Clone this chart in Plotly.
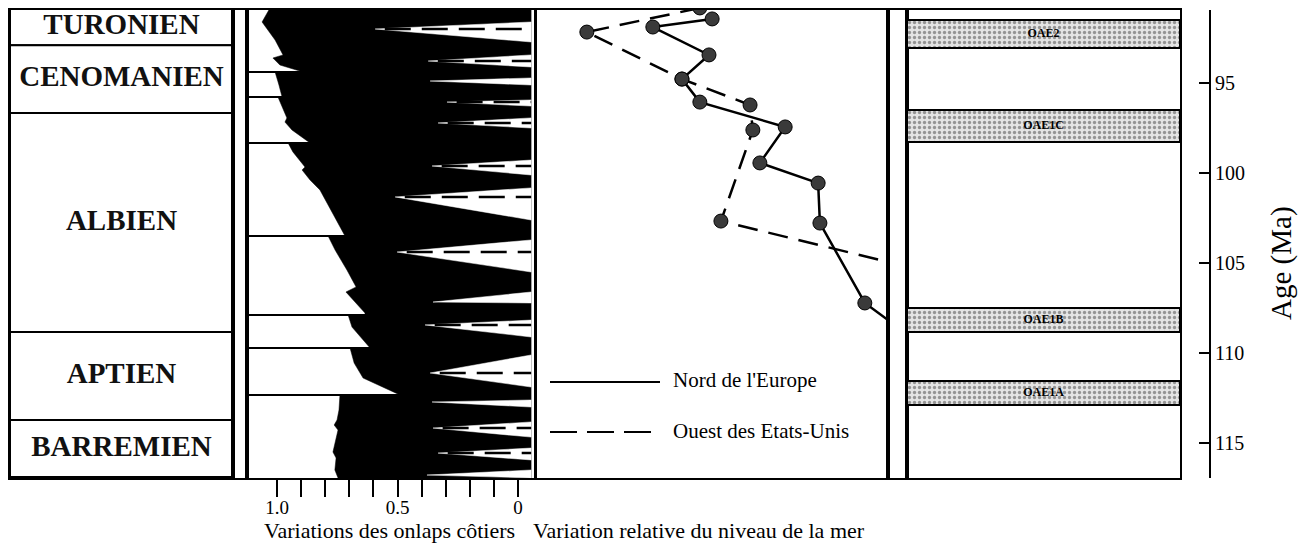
import plotly.graph_objects as go

# ---- data (ages in Ma) ----
stage_names = ['TURONIEN', 'CENOMANIEN', 'ALBIEN', 'APTIEN', 'BARREMIEN']
stage_top = [90.83, 92.9, 96.67, 108.83, 113.72]
stage_base = [92.9, 96.67, 108.83, 113.72, 116.89]

# coastal onlap curve (white/black limit), jumps at sequence boundaries
onlap_age = [90.83, 91.61, 92.61, 93.17, 93.44, 93.61, 94.0, 94.39,
             94.39, 95.11, 95.78,
             95.78, 96.5, 96.94, 97.17, 97.61, 98.33,
             98.33, 98.83, 99.44, 99.67, 99.83, 100.39, 100.94, 103.5,
             103.5, 104.28, 105.39, 106.33, 106.61, 107.78, 107.89,
             107.89, 108.56, 109.72,
             109.72, 110.56, 111.39, 111.89, 112.33,
             112.33, 113.17, 113.72, 114.0, 114.28, 115.5, 115.83, 116.5, 116.94]
onlap_val = [1.029, 1.062, 1.008, 0.988, 0.975, 1.017, 0.988, 0.892,
             1.008, 0.992, 0.979,
             0.996, 0.971, 0.959, 0.967, 0.938, 0.863,
             0.954, 0.934, 0.896, 0.884, 0.896, 0.863, 0.822, 0.718,
             0.788, 0.759, 0.710, 0.672, 0.714, 0.635, 0.635,
             0.705, 0.689, 0.614,
             0.697, 0.680, 0.643, 0.560, 0.490,
             0.739, 0.743, 0.751, 0.763, 0.747, 0.768, 0.755, 0.760, 0.747]

# sequence boundaries
seq_age = [94.39, 95.78, 98.33, 103.5, 107.89, 109.72, 112.33]
seq_tip = [0.892, 0.979, 0.863, 0.718, 0.635, 0.614, 0.490]

# white wedges (tip age, tip value, base top, base bottom, dashed axis)
tri_age = [92.0, 93.78, 94.89, 96.06, 97.22, 99.61, 101.33, 104.39, 107.17,
           108.44, 111.11, 112.72, 114.17, 115.56, 116.78]
tri_tip = [0.593, 0.373, 0.365, 0.295, 0.332, 0.357, 0.510, 0.502, 0.353,
           0.386, 0.365, 0.357, 0.353, 0.332, 0.378]
tri_top = [91.61, 93.44, 94.72, 95.94, 96.94, 99.28, 100.83, 103.72, 106.61,
           108.17, 110.11, 112.61, 113.83, 115.28, 116.5]
tri_bot = [92.72, 94.11, 95.11, 96.28, 97.5, 100.11, 102.61, 105.5, 107.22,
           109.11, 111.89, 113.0, 114.67, 115.94, 116.94]
tri_dash = [1, 1, 0, 1, 1, 1, 1, 1, 0, 1, 1, 0, 1, 1, 0]

onlap_ticks = [0, 0.1, 0.2, 0.3, 0.4, 0.5, 0.6, 0.7, 0.8, 0.9, 1.0]
onlap_labels = ['0', '', '', '', '', '0.5', '', '', '', '', '1.0']

# relative sea level
nord_age = [91.44, 91.89, 93.44, 94.78, 96.06, 97.44, 99.44, 100.56, 102.78, 107.22, 108.17]
nord_val = [49.9, 33.0, 49.0, 41.3, 46.4, 70.7, 63.5, 80.1, 80.6, 93.4, 100.0]
ouest_age = [90.83, 92.17, 94.78, 96.22, 97.61, 102.67, 104.94]
ouest_val = [46.4, 14.2, 41.3, 60.7, 61.5, 52.4, 100.0]

# oceanic anoxic events
oae_names = ['OAE2', 'OAE1C', 'OAE1B', 'OAE1A']
oae_top = [91.5, 96.5, 107.5, 111.56]
oae_base = [93.06, 98.28, 108.83, 112.89]

age_ticks = [95, 100, 105, 110, 115]

# ---- layout helpers ----
# the page puts the figure 8px from the top-left corner
OFF = 8
W, H = 1298, 537


def fx(p):
    return (p - OFF) / W


def fy(p):
    return 1 - (p - OFF) / H


AGE_RANGE = [116.944, 90.944]
YDOM = [fy(478), fy(10)]
EDGE = -0.054
SERIF = 'Liberation Serif'

fig = go.Figure()

# stage column
fig.add_trace(go.Bar(x=[0] * len(stage_names), base=stage_top,
                     y=[b - t for t, b in zip(stage_top, stage_base)], width=1,
                     marker=dict(color='white', line=dict(color='black', width=2)),
                     xaxis='x', yaxis='y', hoverinfo='skip'))
fig.add_trace(go.Scatter(x=[0] * len(stage_names),
                         y=[(t + b) / 2 for t, b in zip(stage_top, stage_base)],
                         text=['<b>%s</b>' % s for s in stage_names], mode='text',
                         textfont=dict(family=SERIF, size=29, color='#111111'),
                         xaxis='x', yaxis='y', hoverinfo='skip'))

# strips (empty)
fig.add_trace(go.Scatter(x=[0], y=[100], mode='markers', marker_opacity=0,
                         xaxis='x2', yaxis='y2', hoverinfo='skip'))
fig.add_trace(go.Scatter(x=[0], y=[100], mode='markers', marker_opacity=0,
                         xaxis='x5', yaxis='y5', hoverinfo='skip'))

# onlap panel : black area right of the curve
fig.add_trace(go.Scatter(x=onlap_val + [EDGE, EDGE], y=onlap_age + [onlap_age[-1], onlap_age[0]],
                         fill='toself', fillcolor='black', mode='lines',
                         line=dict(color='black', width=0.5),
                         xaxis='x3', yaxis='y3', hoverinfo='skip'))
tx, ty = [], []
for a, v, t, b in zip(tri_age, tri_tip, tri_top, tri_bot):
    tx += [EDGE, v, EDGE, EDGE, None]
    ty += [t, a, b, t, None]
fig.add_trace(go.Scatter(x=tx, y=ty, fill='toself', fillcolor='white', mode='lines',
                         line=dict(color='white', width=0.5),
                         xaxis='x3', yaxis='y3', hoverinfo='skip'))
dx, dy = [], []
for a, v, d in zip(tri_age, tri_tip, tri_dash):
    if d:
        dx += [v - 0.04, EDGE, None]
        dy += [a, a, None]
fig.add_trace(go.Scatter(x=dx, y=dy, mode='lines',
                         line=dict(color='black', width=2.5, dash='26px,11px'),
                         xaxis='x3', yaxis='y3', hoverinfo='skip'))
sx, sy = [], []
for a, v in zip(seq_age, seq_tip):
    sx += [1.2, v, None]
    sy += [a, a, None]
fig.add_trace(go.Scatter(x=sx, y=sy, mode='lines', line=dict(color='black', width=2),
                         xaxis='x3', yaxis='y3', hoverinfo='skip'))

# sea level panel
fig.add_trace(go.Scatter(x=ouest_val, y=ouest_age, mode='lines+markers',
                         line=dict(color='black', width=2.5, dash='20px,11px'),
                         marker=dict(color='#3a3a3a', opacity=1, line=dict(color='black', width=1),
                                     size=[14] * (len(ouest_val) - 1) + [0]),
                         xaxis='x4', yaxis='y4', hoverinfo='skip'))
fig.add_trace(go.Scatter(x=nord_val, y=nord_age, mode='lines+markers',
                         line=dict(color='black', width=2.5),
                         marker=dict(color='#3a3a3a', opacity=1, line=dict(color='black', width=1),
                                     size=[14] * (len(nord_val) - 1) + [0]),
                         xaxis='x4', yaxis='y4', hoverinfo='skip'))

# OAE panel
fig.add_trace(go.Bar(x=[0] * len(oae_names), base=oae_top,
                     y=[b - t for t, b in zip(oae_top, oae_base)], width=1,
                     marker=dict(color='#e4e4e4', line=dict(color='black', width=2),
                                 pattern=dict(shape='.', fgcolor='#444444', bgcolor='#e4e4e4',
                                              size=5, solidity=0.35)),
                     xaxis='x6', yaxis='y6', hoverinfo='skip'))
fig.add_trace(go.Scatter(x=[0] * len(oae_names),
                         y=[(t + b) / 2 for t, b in zip(oae_top, oae_base)],
                         text=['<b>%s</b>' % s for s in oae_names], mode='text',
                         textfont=dict(family=SERIF, size=12, color='black'),
                         xaxis='x6', yaxis='y6', hoverinfo='skip'))

# age axis
fig.add_trace(go.Scatter(x=[0], y=[100], mode='markers', marker_opacity=0,
                         xaxis='x6', yaxis='y7', hoverinfo='skip'))

panels = [(10, 233, [-0.5, 0.5]), (233, 247, [0, 1]), (247, 534, [1.1245, -0.066]),
          (537, 888, [0, 100]), (888, 907, [0, 1]), (907, 1180, [-0.5, 0.5])]
lay = {}
for i, (a, b, r) in enumerate(panels, start=1):
    sfx = '' if i == 1 else str(i)
    lay['xaxis' + sfx] = dict(domain=[fx(a), fx(b)], anchor='y' + sfx, range=r,
                              showline=True, mirror=True, linecolor='black', linewidth=2,
                              showgrid=False, zeroline=False, showticklabels=False,
                              ticks='', fixedrange=True)
    lay['yaxis' + sfx] = dict(domain=YDOM, anchor='x' + sfx, range=AGE_RANGE,
                              showline=True, mirror=True, linecolor='black', linewidth=2,
                              showgrid=False, zeroline=False, showticklabels=False,
                              ticks='', fixedrange=True)

lay['xaxis3'].update(ticks='outside', ticklen=17, tickwidth=2, tickcolor='black',
                     tickvals=onlap_ticks, ticktext=onlap_labels, showticklabels=True,
                     ticklabelstandoff=-6,
                     tickfont=dict(family=SERIF, size=19, color='black'))
lay['yaxis7'] = dict(overlaying='y6', anchor='free', position=fx(1210), side='right',
                     range=AGE_RANGE, showline=True, linecolor='black', linewidth=2,
                     ticks='inside', ticklen=10, tickwidth=2, tickcolor='black',
                     tickvals=age_ticks, showgrid=False, zeroline=False,
                     tickfont=dict(family=SERIF, size=20, color='black'))
fig.update_layout(**lay)

fig.add_annotation(text='Age (Ma)', xref='paper', yref='paper', x=fx(1281), y=fy(263),
                   textangle=-90, xanchor='center', yanchor='middle', showarrow=False,
                   font=dict(family=SERIF, size=29, color='black'))

# legend inside the sea level panel
fig.add_shape(type='line', xref='paper', yref='paper', x0=fx(550), x1=fx(660),
              y0=fy(382), y1=fy(382), line=dict(color='black', width=2))
fig.add_shape(type='line', xref='paper', yref='paper', x0=fx(550), x1=fx(652),
              y0=fy(432), y1=fy(432), line=dict(color='black', width=2, dash='27px,10px'))
fig.add_annotation(text="Nord de l'Europe", xref='paper', yref='paper', x=fx(671), y=fy(380),
                   xanchor='left', yanchor='middle', showarrow=False,
                   font=dict(family=SERIF, size=21, color='black'))
fig.add_annotation(text='Ouest des Etats-Unis', xref='paper', yref='paper', x=fx(671), y=fy(431),
                   xanchor='left', yanchor='middle', showarrow=False,
                   font=dict(family=SERIF, size=21, color='black'))

# bottom titles
fig.add_annotation(text='Variations des onlaps côtiers', xref='paper', yref='paper',
                   x=fx(389), y=fy(530), xanchor='center', yanchor='middle', showarrow=False,
                   font=dict(family=SERIF, size=22, color='black'))
fig.add_annotation(text='Variation relative du niveau de la mer', xref='paper', yref='paper',
                   x=fx(699), y=fy(530), xanchor='center', yanchor='middle', showarrow=False,
                   font=dict(family=SERIF, size=22, color='black'))

fig.update_layout(width=W, height=H, margin=dict(l=0, r=0, t=0, b=0),
                  paper_bgcolor='white', plot_bgcolor='white',
                  showlegend=False, barmode='overlay')

fig.write_html("out.html")
